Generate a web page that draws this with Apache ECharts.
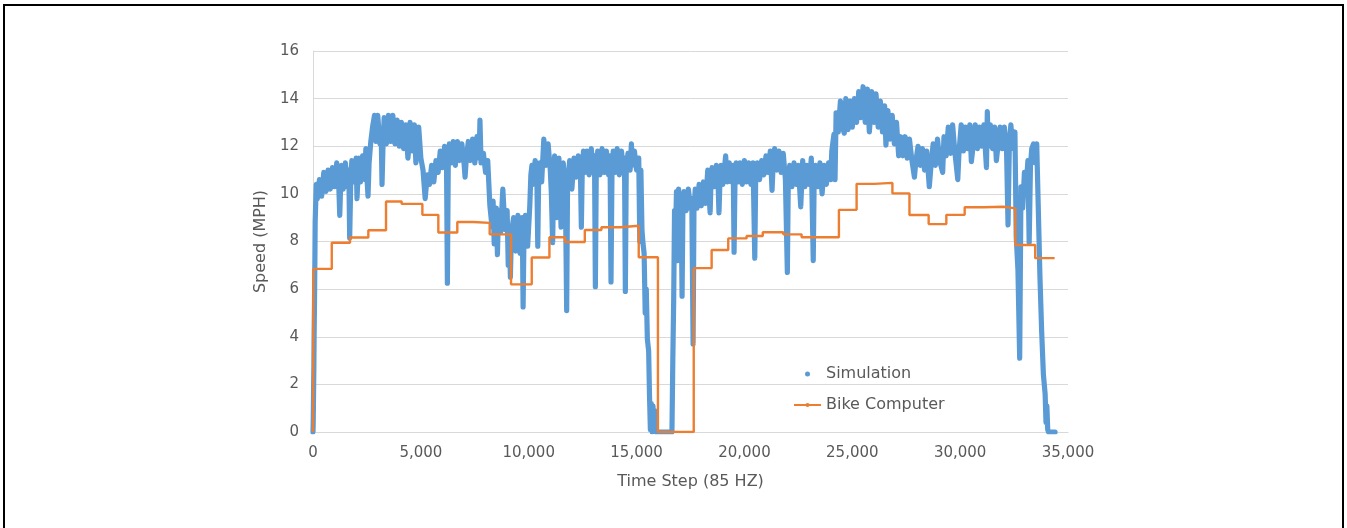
<!DOCTYPE html>
<html>
<head>
<meta charset="utf-8">
<title>Speed: Simulation vs Bike Computer</title>
<script src="https://cdn.jsdelivr.net/npm/echarts@6/dist/echarts.min.js"></script>
<style>
  html, body { margin: 0; padding: 0; background: #ffffff; }
  #chart { width: 1347px; height: 528px; }
</style>
</head>
<body>
<div id="chart"></div>
<script>
// Axis ticks
const xTicks = [0, 5000, 10000, 15000, 20000, 25000, 30000, 35000];
const yTicks = [0, 2, 4, 6, 8, 10, 12, 14, 16];

// Bike computer readings: [time step, speed]; each value holds until the next time step
const bikeComputer = [
  [0, 0], [20, 6.85], [870, 7.95], [1715, 8.17], [2565, 8.47], [3385, 9.68],
  [4110, 9.58], [5070, 9.12], [5810, 8.38], [6690, 8.82], [7430, 8.78],
  [8190, 8.3], [9180, 6.2], [10140, 7.33], [10960, 8.18], [11680, 7.98],
  [12600, 8.48], [13370, 8.6], [14250, 8.66], [15100, 7.34], [15990, 0],
  [17650, 6.88], [18480, 7.64], [19250, 8.13], [20100, 8.23], [20850, 8.39],
  [21800, 8.3], [22650, 8.18], [24380, 9.33], [25200, 10.42], [26020, 10.46],
  [26860, 10.02], [27650, 9.11], [28540, 8.73], [29360, 9.12], [30210, 9.44],
  [31080, 9.46], [32010, 9.39], [32560, 7.85], [33480, 7.3], [34380, 7.3]
];

// Simulated speed at 85 Hz: [time step, speed]
const simulation = [
  [0, 0], [10, 0.4], [20, 1.2], [30, 2.0], [40, 2.7], [50, 3.9], [70, 5.5], [90, 7.5], [100, 8.8],
  [150, 10.4], [200, 9.8], [300, 10.6], [400, 9.9], [500, 10.9], [600, 10.1], [700, 11.0],
  [800, 10.2], [900, 11.1], [1000, 10.3], [1100, 11.3], [1200, 10.2], [1240, 9.1], [1280, 10.3],
  [1320, 11.2], [1400, 10.2], [1500, 11.3], [1600, 10.3], [1660, 11.0], [1700, 8.15], [1750, 10.5],
  [1800, 11.4], [1900, 10.5], [2000, 11.5], [2040, 9.8], [2080, 10.6], [2120, 11.5], [2200, 10.5],
  [2300, 11.6], [2400, 10.6], [2450, 11.9], [2500, 10.7], [2550, 9.9], [2600, 11.3], [2680, 12.2],
  [2760, 12.8], [2850, 13.3], [2920, 12.2], [3000, 13.3], [3100, 12.1], [3160, 12.6], [3200, 10.4],
  [3250, 12.2], [3300, 13.2], [3400, 12.1], [3500, 13.3], [3600, 12.2], [3700, 13.3], [3800, 12.1],
  [3900, 13.1], [4000, 12.0], [4100, 13.0], [4200, 11.9], [4300, 12.9], [4400, 11.5], [4450, 12.0],
  [4500, 13.0], [4600, 11.8], [4700, 12.9], [4770, 11.3], [4830, 12.0], [4900, 12.8], [5000, 11.5],
  [5100, 11.0], [5200, 9.8], [5300, 10.8], [5400, 10.4], [5500, 11.2], [5600, 10.5], [5700, 11.4],
  [5800, 10.9], [5900, 11.8], [6000, 11.1], [6100, 12.0], [6190, 11.2], [6230, 6.25], [6270, 11.2],
  [6320, 12.1], [6400, 11.3], [6500, 12.2], [6600, 11.2], [6700, 12.2], [6800, 11.4], [6900, 12.1],
  [7000, 11.3], [7050, 10.7], [7100, 11.4], [7200, 12.2], [7300, 11.4], [7400, 12.3], [7500, 11.3],
  [7600, 12.4], [7700, 11.5], [7740, 13.1], [7790, 11.3], [7900, 11.7], [8000, 10.9], [8100, 11.4],
  [8200, 9.5], [8300, 8.6], [8350, 9.7], [8400, 7.9], [8500, 9.4], [8550, 7.45], [8600, 9.3],
  [8700, 8.4], [8800, 10.2], [8900, 8.5], [9000, 9.3], [9050, 7.0], [9100, 8.6], [9150, 6.5],
  [9200, 8.4], [9300, 9.0], [9400, 7.6], [9500, 9.1], [9600, 7.5], [9700, 9.0], [9740, 5.25],
  [9780, 8.2], [9850, 9.1], [9950, 7.8], [10050, 9.5], [10100, 10.8], [10150, 11.2], [10200, 10.4],
  [10300, 11.4], [10380, 10.5], [10420, 7.8], [10460, 10.6], [10520, 11.3], [10600, 10.5],
  [10700, 12.3], [10800, 11.2], [10900, 12.1], [11000, 11.0], [11050, 10.0], [11110, 7.95],
  [11150, 10.4], [11200, 11.6], [11300, 9.0], [11400, 11.5], [11500, 8.6], [11600, 11.3],
  [11700, 10.2], [11760, 5.1], [11800, 10.4], [11900, 11.4], [12000, 10.2], [12100, 11.5],
  [12200, 10.7], [12300, 11.6], [12400, 10.8], [12440, 8.6], [12480, 10.9], [12540, 11.8],
  [12600, 10.9], [12700, 11.8], [12800, 10.8], [12900, 11.9], [13000, 10.9], [13050, 11.6],
  [13090, 6.1], [13130, 10.8], [13200, 11.8], [13300, 10.8], [13400, 11.9], [13500, 10.9],
  [13600, 11.8], [13700, 10.8], [13770, 11.6], [13815, 6.3], [13860, 10.9], [13920, 11.8],
  [14000, 10.9], [14100, 11.9], [14200, 10.8], [14300, 11.8], [14400, 10.9], [14440, 11.5],
  [14480, 5.9], [14520, 10.9], [14600, 11.7], [14700, 11.0], [14760, 12.1], [14800, 11.2],
  [14900, 11.8], [15000, 11.0], [15100, 11.5], [15150, 8.0], [15200, 11.0], [15250, 8.5],
  [15300, 7.9], [15350, 7.5], [15400, 5.0], [15450, 6.0], [15500, 3.9], [15560, 3.4], [15600, 1.5],
  [15640, 0.1], [15680, 1.2], [15720, 0.0], [15760, 1.1], [15800, 0.1], [15840, 0.9], [15880, 0.0],
  [16640, 0.0], [16680, 3.0], [16720, 5.5], [16760, 9.3], [16800, 8.0], [16850, 10.1], [16900, 7.2],
  [16950, 10.2], [17000, 8.3], [17060, 10.0], [17110, 5.7], [17150, 9.6], [17200, 10.1],
  [17300, 9.3], [17400, 10.2], [17500, 9.4], [17560, 9.8], [17620, 3.7], [17660, 9.3], [17720, 10.2],
  [17800, 9.4], [17900, 10.4], [18000, 9.5], [18100, 10.5], [18200, 9.6], [18300, 11.0],
  [18410, 9.2], [18450, 10.5], [18500, 11.1], [18600, 10.3], [18700, 11.2], [18780, 10.4],
  [18820, 9.2], [18860, 10.4], [18920, 11.2], [19000, 10.4], [19130, 11.6], [19200, 10.5],
  [19300, 11.3], [19400, 10.5], [19480, 11.2], [19520, 7.55], [19560, 10.4], [19620, 11.3],
  [19700, 10.5], [19800, 11.3], [19900, 10.4], [20000, 11.4], [20100, 10.5], [20200, 11.3],
  [20300, 10.4], [20400, 11.3], [20480, 7.3], [20520, 10.5], [20600, 11.3], [20700, 10.6],
  [20800, 11.4], [20900, 10.8], [21000, 11.6], [21100, 10.9], [21200, 11.8], [21280, 10.15],
  [21320, 11.0], [21400, 11.9], [21500, 11.0], [21600, 11.8], [21700, 10.9], [21800, 11.7],
  [21900, 10.6], [21990, 6.7], [22030, 10.3], [22100, 11.2], [22200, 10.3], [22300, 11.3],
  [22400, 10.4], [22500, 11.2], [22610, 9.45], [22650, 10.3], [22700, 11.4], [22800, 10.3],
  [22900, 11.2], [23000, 10.4], [23100, 11.5], [23190, 7.2], [23230, 10.4], [23300, 11.2],
  [23400, 10.3], [23500, 11.3], [23600, 10.0], [23700, 11.2], [23800, 10.4], [23900, 11.3],
  [24000, 10.6], [24050, 11.8], [24150, 12.5], [24200, 10.6], [24250, 13.4], [24350, 12.6],
  [24450, 13.9], [24550, 12.8], [24630, 12.55], [24700, 14.0], [24800, 12.7], [24900, 13.9],
  [25000, 12.8], [25100, 14.0], [25200, 13.0], [25300, 14.3], [25400, 13.2], [25500, 14.5],
  [25600, 13.0], [25700, 14.4], [25790, 12.6], [25850, 13.3], [25900, 14.3], [26000, 13.0],
  [26100, 14.2], [26200, 12.8], [26300, 13.9], [26400, 12.6], [26500, 13.7], [26560, 12.05],
  [26650, 13.5], [26750, 12.3], [26850, 13.3], [26950, 12.1], [27050, 13.0], [27150, 11.6],
  [27250, 12.4], [27350, 11.6], [27450, 12.4], [27550, 11.5], [27650, 12.3], [27750, 11.5],
  [27880, 10.7], [27950, 11.4], [28050, 12.0], [28150, 11.2], [28250, 11.9], [28350, 11.0],
  [28450, 11.8], [28570, 10.3], [28650, 11.2], [28750, 12.1], [28850, 11.2], [28950, 12.3],
  [29050, 11.4], [29190, 10.9], [29250, 12.4], [29350, 11.6], [29450, 12.8], [29550, 11.7],
  [29650, 12.9], [29750, 11.8], [29890, 10.6], [29950, 11.8], [30050, 12.9], [30150, 11.8],
  [30250, 12.8], [30350, 11.9], [30450, 12.9], [30520, 11.35], [30600, 12.0], [30700, 12.9],
  [30800, 11.9], [30900, 12.8], [31000, 12.0], [31100, 12.9], [31220, 11.1], [31260, 13.45],
  [31300, 12.0], [31400, 12.9], [31500, 11.9], [31600, 12.8], [31680, 11.4], [31750, 12.0],
  [31850, 12.8], [31950, 11.9], [32050, 12.8], [32150, 11.9], [32220, 8.7], [32280, 12.0],
  [32350, 12.9], [32450, 11.9], [32540, 12.6], [32600, 8.2], [32680, 6.8], [32760, 3.1],
  [32820, 10.3], [32900, 9.4], [32980, 10.9], [33060, 10.2], [33140, 11.4], [33200, 7.95],
  [33260, 11.2], [33320, 11.9], [33400, 12.1], [33480, 11.3], [33550, 12.1], [33620, 9.5],
  [33700, 6.5], [33780, 4.2], [33860, 2.4], [33940, 1.6], [33980, 0.4], [34020, 1.1],
  [34060, 0.1], [34100, 0.0], [34400, 0.0]
];

const BLUE = '#5B9BD5';
const ORANGE = '#ED7D31';
const TEXT = '#595959';
const GRID = '#D9D9D9';
const FONT = 'DejaVu Sans';

const chart = echarts.init(document.getElementById('chart'), null, { renderer: 'canvas' });

chart.setOption({
  animation: false,
  backgroundColor: '#ffffff',
  textStyle: { fontFamily: FONT },
  graphic: [{
    type: 'rect',
    shape: { x: 4, y: 5, width: 1339, height: 540 },
    style: { fill: null, stroke: '#000000', lineWidth: 2 },
    silent: true
  }],
  grid: { left: 313, right: 279, top: 51, bottom: 96 },
  legend: {
    orient: 'vertical',
    left: 788,
    top: 361,
    itemWidth: 27,
    itemHeight: 5,
    itemGap: 15,
    textStyle: { color: TEXT, fontSize: 16, fontFamily: FONT },
    data: [
      { name: 'Simulation', icon: 'circle' },
      { name: 'Bike Computer' }
    ]
  },
  xAxis: {
    type: 'value',
    min: xTicks[0],
    max: xTicks[xTicks.length - 1],
    interval: xTicks[1] - xTicks[0],
    name: 'Time Step (85 HZ)',
    nameLocation: 'middle',
    nameGap: 42,
    nameTextStyle: { color: TEXT, fontSize: 16, fontFamily: FONT },
    axisLine: { show: true, lineStyle: { color: GRID, width: 1 } },
    axisTick: { show: false },
    splitLine: { show: false },
    axisLabel: {
      color: TEXT, fontSize: 15, fontFamily: FONT, margin: 14,
      formatter: v => v.toLocaleString('en-US')
    }
  },
  yAxis: {
    type: 'value',
    min: yTicks[0],
    max: yTicks[yTicks.length - 1],
    interval: yTicks[1] - yTicks[0],
    name: 'Speed (MPH)',
    nameLocation: 'middle',
    nameGap: 42,
    nameRotate: 90,
    nameTextStyle: { color: TEXT, fontSize: 16, fontFamily: FONT },
    axisLine: { show: true, lineStyle: { color: GRID, width: 1 } },
    axisTick: { show: false },
    splitLine: { show: true, lineStyle: { color: GRID, width: 1 } },
    axisLabel: { color: TEXT, fontSize: 15, fontFamily: FONT, margin: 14 }
  },
  series: [
    {
      name: 'Simulation',
      type: 'line',
      data: simulation,
      showSymbol: false,
      symbol: 'circle',
      itemStyle: { color: BLUE },
      lineStyle: { color: BLUE, width: 5.2, join: 'round', cap: 'round' },
      z: 2
    },
    {
      name: 'Bike Computer',
      type: 'line',
      step: 'end',
      data: bikeComputer,
      showSymbol: false,
      symbol: 'none',
      itemStyle: { color: ORANGE },
      lineStyle: { color: ORANGE, width: 2.4 },
      z: 3
    }
  ]
});
</script>
</body>
</html>
